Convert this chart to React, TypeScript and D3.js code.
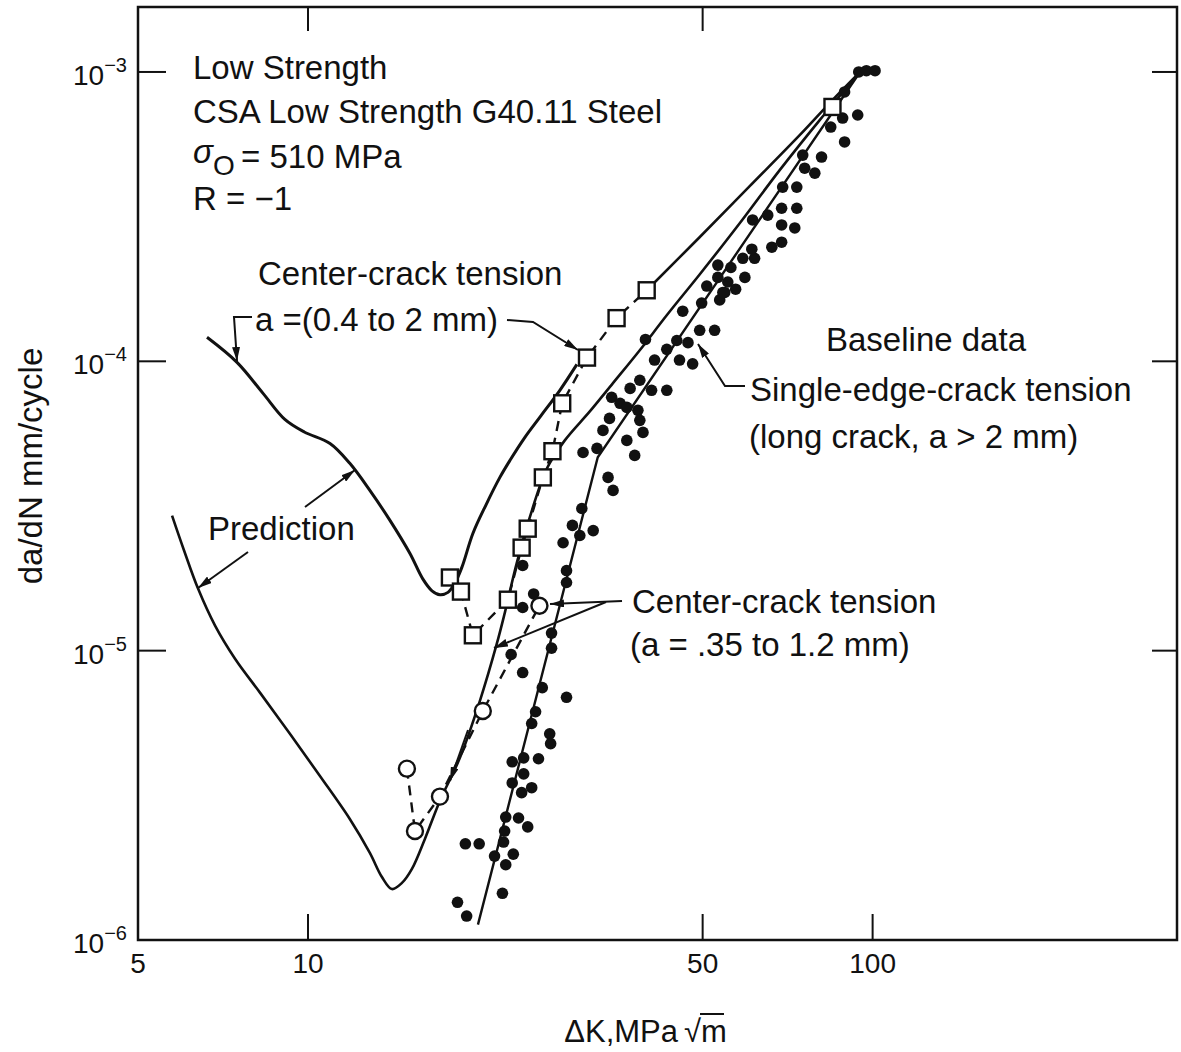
import React from "react";
import * as d3 from "d3";

type Pt = [number, number];

// axis ticks
const xTickValues = [5, 10, 50, 100];
const xTickLabels = ["5", "10", "50", "100"];
const yTickValues = [1e-6, 1e-5, 1e-4, 1e-3];
const yTickExponents = ["−6", "−5", "−4", "−3"];
const bottomInnerTicks = [10, 50, 100];
const topInnerTicks = [10, 50];
const sideInnerTicks = [1e-5, 1e-4, 1e-3];

// Baseline data, single-edge-crack tension (long crack): [ΔK, da/dN]
const baselineDots: Pt[] = [
  [24.0, 1.97e-5], [28.7, 1.89e-5], [28.7, 1.72e-5], [25.1, 1.57e-5], [24.0, 1.41e-5],
  [27.0, 1.15e-5], [27.0, 1.02e-5], [22.9, 9.7e-6], [24.0, 8.4e-6], [26.0, 7.45e-6],
  [28.7, 6.9e-6], [25.3, 6.15e-6], [24.9, 5.6e-6], [26.8, 5.16e-6], [26.9, 4.77e-6],
  [25.6, 4.23e-6], [24.1, 4.26e-6], [23.0, 4.13e-6], [24.1, 3.75e-6], [23.0, 3.49e-6],
  [24.9, 3.36e-6], [23.9, 3.23e-6], [22.4, 2.66e-6], [23.6, 2.64e-6], [24.5, 2.46e-6],
  [22.3, 2.38e-6], [22.2, 2.18e-6], [19.0, 2.15e-6], [20.1, 2.15e-6], [21.4, 1.95e-6],
  [23.1, 1.98e-6], [22.4, 1.82e-6], [22.1, 1.45e-6], [18.4, 1.35e-6], [19.1, 1.21e-6],
  [39.6, 1.19e-4], [46.1, 1.49e-4], [43.2, 1.1e-4], [45.0, 1.18e-4], [41.1, 1.01e-4],
  [45.5, 1.01e-4], [48.0, 9.8e-5], [47.1, 1.16e-4], [49.4, 1.28e-4], [52.5, 1.28e-4],
  [49.8, 1.59e-4], [53.6, 1.63e-4], [54.7, 1.73e-4], [38.7, 8.6e-5], [40.6, 7.94e-5],
  [43.2, 7.94e-5], [37.2, 8.06e-5], [34.5, 7.51e-5], [35.7, 7.16e-5], [36.7, 6.93e-5],
  [38.4, 6.77e-5], [38.7, 6.25e-5], [34.2, 6.35e-5], [39.2, 5.68e-5], [33.3, 5.77e-5],
  [36.7, 5.33e-5], [37.9, 4.73e-5], [32.5, 5.0e-5], [30.7, 4.84e-5], [34.0, 3.97e-5],
  [34.7, 3.58e-5], [30.55, 3.1e-5], [29.4, 2.71e-5], [32.0, 2.6e-5], [30.3, 2.5e-5],
  [28.3, 2.36e-5],
  [50.85, 1.82e-4], [53.2, 2.15e-4], [56.1, 2.11e-4], [59.4, 1.95e-4], [53.2, 1.95e-4],
  [55.4, 1.88e-4], [57.2, 1.775e-4], [54.3, 1.73e-4], [58.9, 2.27e-4], [61.8, 2.27e-4],
  [61.1, 2.44e-4], [69.0, 2.58e-4], [66.3, 2.48e-4], [61.3, 3.08e-4], [65.2, 3.2e-4],
  [69.0, 3.38e-4], [73.4, 3.38e-4], [69.0, 2.96e-4], [72.8, 2.89e-4], [69.3, 4.0e-4],
  [73.4, 4.0e-4], [75.2, 5.16e-4], [81.2, 5.08e-4], [75.8, 4.65e-4], [79.0, 4.47e-4],
  [84.3, 6.45e-4], [89.2, 5.73e-4], [88.5, 6.93e-4], [94.1, 7.1e-4], [89.2, 8.53e-4],
  [94.5, 1.0e-3], [97.5, 1.01e-3], [101.0, 1.01e-3],
];

// Baseline fit line
const baselineFit: Pt[] = [[20.0, 1.13e-6], [32.6, 4.66e-5], [95, 1.0e-3]];

// Center-crack tension, a = 0.4 to 2 mm (open squares, dashed)
const cctSquares: Pt[] = [
  [17.84, 1.79e-5], [18.66, 1.6e-5], [19.59, 1.13e-5], [22.6, 1.5e-5], [23.9, 2.27e-5],
  [24.5, 2.64e-5], [26.06, 3.97e-5], [27.1, 4.89e-5], [28.2, 7.16e-5], [31.2, 1.03e-4],
  [35.2, 1.41e-4], [39.8, 1.76e-4],
];
const cctSquaresExtra: Pt[] = [[84.9, 7.57e-4]];

// Center-crack tension, a = .35 to 1.2 mm (open circles, dashed)
const cctCircles: Pt[] = [
  [14.97, 3.91e-6], [15.47, 2.38e-6], [17.13, 3.13e-6], [20.4, 6.19e-6], [25.7, 1.43e-5],
];

// Prediction, a = 0.4 to 2 mm
const predUpperA: Pt[] = [
  [6.625, 1.211e-4], [7.487, 9.92e-5], [8.326, 7.75e-5], [9.1, 6.3e-5], [9.85, 5.7e-5],
  [10.94, 5.2e-5], [11.86, 4.44e-5], [12.87, 3.58e-5], [13.97, 2.82e-5], [15.15, 2.17e-5],
  [15.97, 1.77e-5], [16.58, 1.61e-5], [17.13, 1.56e-5], [17.7, 1.59e-5], [18.2, 1.71e-5],
  [18.73, 1.94e-5], [19.59, 2.54e-5], [20.65, 3.18e-5], [21.87, 3.97e-5], [22.78, 4.54e-5],
  [24.22, 5.46e-5], [25.73, 6.4e-5], [27.93, 7.94e-5], [29.94, 9.76e-5],
];
const predUpperB: Pt[] = [
  [39.98, 1.775e-4], [49.43, 2.69e-4], [60.58, 4.03e-4], [74.27, 6.05e-4], [83.94, 7.81e-4],
  [95, 1.0e-3],
];

// Prediction, a = .35 to 1.2 mm
const predLower: Pt[] = [
  [5.745, 2.93e-5], [6.033, 2.22e-5], [6.387, 1.639e-5], [6.846, 1.221e-5], [7.427, 9.38e-6],
  [8.222, 7.16e-6], [9.29, 5.16e-6], [10.5, 3.69e-6], [11.86, 2.62e-6], [12.87, 2.0e-6],
  [13.52, 1.65e-6], [14.08, 1.5e-6], [14.67, 1.575e-6], [15.28, 1.761e-6], [16.11, 2.236e-6],
  [17.13, 3.03e-6], [18.58, 4.26e-6], [20.16, 6.71e-6], [21.6, 1.057e-5], [22.32, 1.354e-5],
  [23.44, 2.016e-5], [24.92, 3.05e-5], [26.49, 4.26e-5], [28.5, 5.33e-5], [31.56, 6.71e-5],
  [34.66, 8.39e-5], [38.69, 1.092e-4], [43.19, 1.443e-4], [49.43, 2.0e-4], [58.16, 3.0e-4],
  [68.46, 4.58e-4], [80.59, 6.82e-4], [95, 1.0e-3],
];

const FONT = "'Liberation Sans', Arial, Helvetica, sans-serif";
const INK = "#111";

const left = 138, right = 1177, top = 7, bottom = 940;

const x = d3.scaleLog().domain([5, 346]).range([left, right]);
const y = d3.scaleLog().domain([1e-6, 1.677e-3]).range([bottom, top]);

const smooth = d3
  .line<Pt>()
  .x((d) => x(d[0]))
  .y((d) => y(d[1]))
  .curve(d3.curveCatmullRom.alpha(0.5));
const straight = d3
  .line<Pt>()
  .x((d) => x(d[0]))
  .y((d) => y(d[1]));

// annotation text (page layout)
const notes = [
  { t: "Low Strength", x: 193, y: 79 },
  { t: "CSA Low Strength G40.11 Steel", x: 193, y: 123 },
  { t: "R = −1", x: 193, y: 210 },
  { t: "Center-crack tension", x: 258, y: 285 },
  { t: "a =(0.4 to 2 mm)", x: 255, y: 331 },
  { t: "Baseline data", x: 826, y: 351 },
  { t: "Single-edge-crack tension", x: 750, y: 401 },
  { t: "(long crack, a > 2 mm)", x: 749, y: 448 },
  { t: "Prediction", x: 208, y: 540 },
  { t: "Center-crack tension", x: 632, y: 613 },
  { t: "(a = .35 to 1.2 mm)", x: 630, y: 656 },
];

const leaders: Pt[][] = [
  [[252, 317], [234, 317], [237, 361]],
  [[507, 320], [533, 322], [578, 350]],
  [[305, 507], [355, 470]],
  [[248, 552], [198, 588]],
  [[745, 386], [725, 386], [698, 344]],
  [[622, 601], [550, 604]],
  [[606, 602], [494, 648]],
  [[468, 730], [450, 781]],
];

export default function App() {
  return (
    <svg
      width={1181}
      height={1052}
      style={{ position: "absolute", left: 0, top: 0, background: "#fff" }}
      fontFamily={FONT}
    >
      <defs>
        <marker
          id="arr"
          viewBox="0 0 14 8"
          refX={14}
          refY={4}
          markerWidth={14}
          markerHeight={8}
          markerUnits="userSpaceOnUse"
          orient="auto"
        >
          <path d="M0,0 L14,4 L0,8 z" fill={INK} />
        </marker>
      </defs>
      <rect width={1181} height={1052} fill="#fff" />

      {/* frame */}
      <rect
        x={left}
        y={top}
        width={right - left}
        height={bottom - top}
        fill="none"
        stroke={INK}
        strokeWidth={2.5}
      />

      {/* inward ticks */}
      {bottomInnerTicks.map((v) => (
        <line key={"b" + v} x1={x(v)} x2={x(v)} y1={bottom} y2={bottom - 26} stroke={INK} strokeWidth={2} />
      ))}
      {topInnerTicks.map((v) => (
        <line key={"t" + v} x1={x(v)} x2={x(v)} y1={top} y2={top + 24} stroke={INK} strokeWidth={2} />
      ))}
      {sideInnerTicks.map((v) => (
        <g key={"s" + v}>
          <line x1={left} x2={left + 28} y1={y(v)} y2={y(v)} stroke={INK} strokeWidth={2} />
          <line x1={right} x2={right - 25} y1={y(v)} y2={y(v)} stroke={INK} strokeWidth={2} />
        </g>
      ))}

      {/* tick labels */}
      {xTickValues.map((v, i) => (
        <text key={"xl" + v} x={x(v)} y={973} fontSize={28} textAnchor="middle" fill={INK}>
          {xTickLabels[i]}
        </text>
      ))}
      {yTickValues.map((v, i) => (
        <text key={"yl" + v} x={127} y={y(v) + 13} fontSize={28} textAnchor="end" fill={INK}>
          10
          <tspan dy={-13} fontSize={20}>
            {yTickExponents[i]}
          </tspan>
        </text>
      ))}

      {/* axis titles */}
      <text transform="translate(42,466) rotate(-90)" fontSize={33} textAnchor="middle" fill={INK}>
        da/dN mm/cycle
      </text>
      <text x={678} y={1042} fontSize={31} textAnchor="end" fill={INK}>
        ΔK,MPa
      </text>
      <text x={684} y={1042} fontSize={31} fill={INK}>
        √m
      </text>
      <line x1={700} x2={724} y1={1014} y2={1014} stroke={INK} strokeWidth={2} />

      {/* curves */}
      <path d={smooth(predUpperA) ?? ""} fill="none" stroke={INK} strokeWidth={3} />
      <path d={smooth(predUpperB) ?? ""} fill="none" stroke={INK} strokeWidth={2.6} />
      <path d={smooth(predLower) ?? ""} fill="none" stroke={INK} strokeWidth={2.6} />
      <path d={straight(baselineFit) ?? ""} fill="none" stroke={INK} strokeWidth={2.4} />
      <path
        d={straight(cctSquares) ?? ""}
        fill="none"
        stroke={INK}
        strokeWidth={2.4}
        strokeDasharray="10 7"
      />
      <path
        d={straight(cctCircles) ?? ""}
        fill="none"
        stroke={INK}
        strokeWidth={2.4}
        strokeDasharray="10 7"
      />

      {/* markers */}
      {baselineDots.map((d, i) => (
        <circle key={"d" + i} cx={x(d[0])} cy={y(d[1])} r={5.8} fill={INK} />
      ))}
      {cctSquares.concat(cctSquaresExtra).map((d, i) => (
        <rect
          key={"q" + i}
          x={x(d[0]) - 8}
          y={y(d[1]) - 8}
          width={16}
          height={16}
          fill="#fff"
          stroke={INK}
          strokeWidth={2.4}
        />
      ))}
      {cctCircles.map((d, i) => (
        <circle key={"c" + i} cx={x(d[0])} cy={y(d[1])} r={8} fill="#fff" stroke={INK} strokeWidth={2.4} />
      ))}

      {/* leaders */}
      {leaders.map((p, i) => (
        <polyline
          key={"ld" + i}
          points={p.map((q) => q.join(",")).join(" ")}
          fill="none"
          stroke={INK}
          strokeWidth={2}
          markerEnd="url(#arr)"
        />
      ))}

      {/* annotation text */}
      {notes.map((n, i) => (
        <text key={"n" + i} x={n.x} y={n.y} fontSize={33} fill={INK}>
          {n.t}
        </text>
      ))}
      <text x={193} y={163} fontSize={33} fill={INK}>
        <tspan fontStyle="italic">σ</tspan>
        <tspan dy={12} fontSize={28}>O</tspan>
        <tspan x={241} dy={-7}>= 510 MPa</tspan>
      </text>
    </svg>
  );
}
